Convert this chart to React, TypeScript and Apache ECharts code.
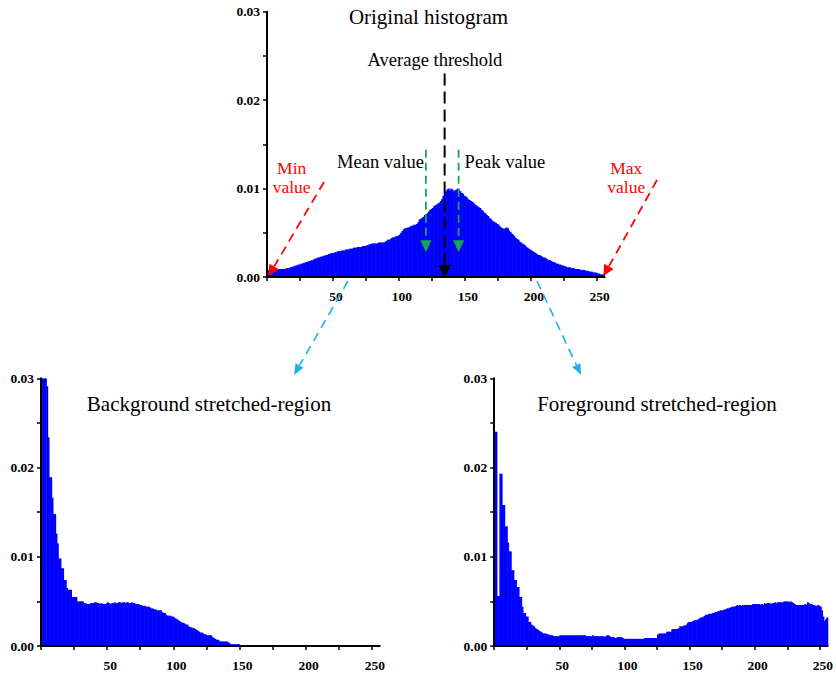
import React, { useEffect, useRef } from "react";
import * as echarts from "echarts";

// Histogram values in units of 1e-4 (i.e. 100 = 0.01), one value per grey level (bin 0, 1, 2 ...)
const UNIT = 0.0001;

const originalHist = [
  8, 8, 8, 8, 8, 8, 8, 8, 9, 9, 9, 9, 9, 9, 10, 10,
  10, 11, 11, 12, 12, 13, 13, 14, 14, 15, 15, 16, 16, 17, 17, 18,
  18, 19, 19, 20, 21, 21, 22, 22, 23, 23, 24, 24, 25, 25, 26, 26,
  27, 27, 27, 28, 28, 29, 29, 29, 30, 30, 30, 31, 31, 31, 32, 32,
  32, 33, 33, 33, 34, 34, 34, 34, 35, 35, 35, 36, 36, 37, 37, 38,
  38, 38, 38, 38, 39, 39, 39, 39, 39, 40, 41, 42, 42, 43, 44, 45,
  45, 46, 46, 47, 48, 50, 52, 54, 55, 55, 56, 56, 57, 58, 58, 59,
  59, 60, 62, 65, 66, 67, 68, 70, 71, 72, 74, 76, 77, 78, 80, 81,
  82, 83, 84, 86, 88, 92, 95, 97, 99, 100, 98, 100, 99, 97, 98, 99,
  100, 99, 97, 95, 94, 92, 91, 90, 88, 87, 86, 85, 84, 82, 81, 80,
  79, 78, 76, 75, 73, 72, 70, 69, 67, 66, 64, 63, 62, 61, 60, 59,
  57, 56, 55, 54, 55, 56, 55, 53, 51, 49, 48, 46, 44, 43, 42, 40,
  39, 38, 37, 36, 34, 33, 32, 31, 30, 29, 28, 27, 26, 25, 25, 24,
  23, 22, 22, 21, 20, 19, 19, 18, 17, 17, 16, 15, 15, 14, 14, 13,
  13, 12, 12, 11, 11, 11, 10, 10, 10, 9, 9, 9, 9, 8, 8, 8,
  8, 7, 7, 7, 6, 6, 6, 5, 5, 5, 4, 4, 3, 3, 3, 3,
];

const backgroundHist = [
  300, 300, 300, 300, 291, 234, 189, 189, 166, 148, 148, 126, 115, 98, 98, 87,
  87, 74, 74, 65, 63, 63, 63, 55, 55, 55, 55, 50, 50, 50, 50, 50,
  48, 48, 47, 47, 47, 48, 48, 48, 49, 49, 48, 48, 47, 48, 47, 47,
  47, 48, 49, 48, 47, 48, 48, 49, 48, 48, 49, 49, 48, 49, 49, 48,
  49, 49, 48, 48, 49, 48, 48, 47, 47, 47, 46, 46, 45, 45, 45, 44,
  44, 44, 43, 42, 42, 41, 41, 40, 40, 40, 40, 38, 37, 37, 35, 34,
  34, 34, 33, 33, 32, 31, 30, 29, 28, 27, 26, 26, 25, 24, 24, 22,
  21, 21, 20, 20, 19, 18, 17, 16, 15, 15, 14, 13, 13, 12, 12, 12,
  12, 10, 9, 8, 7, 7, 6, 5, 5, 5, 5, 5, 5, 4, 3, 2,
  2, 2, 2, 2, 2, 2, 1,
];

const foregroundHist = [
  240, 240, 56, 56, 193, 193, 158, 158, 134, 134, 116, 106, 106, 85, 85, 74,
  74, 66, 66, 55, 55, 44, 37, 37, 33, 33, 27, 27, 24, 23, 22, 20,
  19, 18, 17, 16, 15, 14, 14, 14, 13, 13, 12, 12, 12, 11, 11, 11,
  11, 11, 12, 12, 12, 12, 12, 12, 12, 12, 12, 12, 12, 12, 12, 12,
  12, 12, 12, 12, 12, 12, 11, 11, 11, 11, 11, 12, 11, 11, 11, 11,
  11, 11, 11, 11, 10, 11, 12, 12, 11, 10, 10, 10, 9, 9, 10, 10,
  10, 10, 9, 8, 8, 8, 8, 8, 8, 8, 8, 8, 8, 8, 8, 8,
  8, 8, 8, 9, 9, 9, 9, 9, 9, 9, 9, 9, 9, 13, 14, 14,
  14, 14, 14, 14, 16, 16, 16, 16, 19, 19, 19, 19, 19, 20, 22, 22,
  22, 23, 23, 24, 26, 27, 27, 27, 28, 29, 29, 29, 30, 31, 32, 32,
  33, 34, 35, 35, 36, 36, 36, 37, 37, 38, 38, 39, 39, 40, 40, 40,
  41, 41, 42, 42, 43, 43, 44, 44, 44, 45, 46, 45, 46, 45, 46, 46,
  46, 46, 46, 46, 46, 46, 47, 47, 47, 47, 47, 47, 46, 47, 46, 48,
  47, 48, 48, 48, 47, 48, 48, 49, 48, 49, 49, 49, 49, 49, 50, 50,
  50, 50, 49, 50, 49, 48, 47, 46, 46, 46, 46, 46, 46, 46, 47, 46,
  49, 48, 47, 47, 46, 46, 45, 45, 46, 45, 44, 40, 33, 28, 30, 32,
];

const xTickValues = [0, 25, 50, 75, 100, 125, 150, 175, 200, 225, 250];
const xLabelValues = [50, 100, 150, 200, 250];
const yTickValues = [0, 0.005, 0.01, 0.015, 0.02, 0.025, 0.03];
const yLabelValues = [0, 0.01, 0.02, 0.03];
const X_MAX = 256;
const Y_MAX = 0.03;

// annotation positions in data coordinates of the top histogram
const meanLevel = 120.5;
const peakLevel = 145.3;
const averageThreshold = 134.7;

const FONT = "'Liberation Serif', 'Times New Roman', serif";
const BLUE = "#0000ff";

function makeAxes(gridIndex: number) {
  const labelStyle = {
    color: "#000",
    fontFamily: FONT,
    fontWeight: "bold",
    fontSize: 13.5,
  };
  const xAxis = {
    type: "value",
    gridIndex,
    min: 0,
    max: X_MAX,
    z: 10,
    axisLine: { show: true, onZero: false, lineStyle: { color: "#000", width: 2 } },
    axisTick: { show: true, length: 4, customValues: xTickValues, lineStyle: { color: "#000", width: 1.5 } },
    axisLabel: {
      ...labelStyle,
      customValues: xLabelValues,
      margin: 12,
      padding: [0, 0, 0, 6],
    },
    splitLine: { show: false },
  };
  const yAxis = {
    type: "value",
    gridIndex,
    min: 0,
    max: Y_MAX,
    z: 10,
    axisLine: { show: true, onZero: false, lineStyle: { color: "#000", width: 2 } },
    axisTick: { show: true, length: 4, customValues: yTickValues, lineStyle: { color: "#000", width: 1.5 } },
    axisLabel: {
      ...labelStyle,
      customValues: yLabelValues,
      margin: 7,
      formatter: (v: number) => v.toFixed(2),
    },
    splitLine: { show: false },
  };
  return { xAxis, yAxis };
}

function histSeries(values: number[], index: number) {
  return {
    type: "custom",
    xAxisIndex: index,
    yAxisIndex: index,
    clip: true,
    z: 2,
    data: values.map((v, i) => [i, v * UNIT]),
    renderItem: (params: any, api: any) => {
      const x = api.value(0);
      const v = api.value(1);
      const p0 = api.coord([x, 0]);
      const p1 = api.coord([x + 1, v]);
      return {
        type: "rect",
        shape: { x: p0[0], y: p1[1], width: p1[0] - p0[0] + 0.6, height: p0[1] - p1[1] },
        style: { fill: BLUE },
      };
    },
  };
}

function arrow(
  x1: number, y1: number, x2: number, y2: number,
  color: string, width: number, dash: number[], headL: number, headW: number
) {
  const dx = x2 - x1;
  const dy = y2 - y1;
  const len = Math.hypot(dx, dy);
  const ux = dx / len;
  const uy = dy / len;
  const bx = x2 - ux * headL;
  const by = y2 - uy * headL;
  return [
    {
      type: "line",
      z: 100,
      shape: { x1, y1, x2: bx, y2: by },
      style: { stroke: color, lineWidth: width, lineDash: dash },
      silent: true,
    },
    {
      type: "polygon",
      z: 100,
      shape: {
        points: [
          [x2, y2],
          [bx - (uy * headW) / 2, by + (ux * headW) / 2],
          [bx + (uy * headW) / 2, by - (ux * headW) / 2],
        ],
      },
      style: { fill: color },
      silent: true,
    },
  ];
}

function label(text: string, x: number, y: number, size: number, color = "#000", align = "center") {
  return {
    type: "text",
    z: 100,
    silent: true,
    style: {
      text,
      x,
      y,
      fill: color,
      fontFamily: FONT,
      fontSize: size,
      lineHeight: 19,
      align,
      verticalAlign: "middle",
    },
  };
}

export default function App() {
  const ref = useRef<HTMLDivElement>(null);
  useEffect(() => {
    if (!ref.current) return;
    const chart = echarts.init(ref.current, null, { renderer: "svg" });
    const a0 = makeAxes(0);
    const a1 = makeAxes(1);
    const a2 = makeAxes(2);
    chart.setOption({
      animation: false,
      backgroundColor: "#fff",
      grid: [
        { left: 267, top: 11.7, width: 337.6, height: 265.3 },
        { left: 41, top: 378.3, width: 338.7, height: 267.7 },
        { left: 494.2, top: 378.3, width: 339.2, height: 267.7 },
      ],
      xAxis: [a0.xAxis, a1.xAxis, a2.xAxis],
      yAxis: [a0.yAxis, a1.yAxis, a2.yAxis],
      series: [histSeries(originalHist, 0), histSeries(backgroundHist, 1), histSeries(foregroundHist, 2)],
    });

    const px = (x: number, y: number) => chart.convertToPixel({ gridIndex: 0 }, [x, y]) as number[];
    const meanTop = px(meanLevel, 0.0144);
    const meanTip = px(meanLevel, 0.0028);
    const peakTop = px(peakLevel, 0.0144);
    const peakTip = px(peakLevel, 0.0028);
    const avgTop = px(averageThreshold, 0.023);
    const avgTip = px(averageThreshold, 0);

    const GREEN = "#1aa650";
    const RED = "#ff0000";
    const CYAN = "#1eb2ea";

    chart.setOption({
      graphic: [
        label("Original histogram", 428.5, 17, 21),
        label("Average threshold", 435, 59.5, 18.5),
        label("Mean value", meanTop[0] - 2, 161.7, 18.5, "#000", "right"),
        label("Peak value", peakTop[0] + 6, 161.7, 18.5, "#000", "left"),
        label("Min\nvalue", 291.7, 177.5, 17.5, RED),
        label("Max\nvalue", 626.3, 177.5, 17.5, RED),
        label("Background stretched-region", 209, 403.5, 21),
        label("Foreground stretched-region", 657, 403.5, 21),
        ...arrow(meanTop[0], meanTop[1], meanTip[0], meanTip[1], GREEN, 1.8, [8, 5], 12, 11),
        ...arrow(peakTop[0], peakTop[1], peakTip[0], peakTip[1], GREEN, 1.8, [8, 5], 12, 11),
        ...arrow(avgTop[0], avgTop[1], avgTip[0], avgTip[1], "#000", 2, [12, 6], 12, 13),
        ...arrow(324, 182, 268.5, 276, RED, 1.8, [9, 6], 11, 11),
        ...arrow(657, 180, 603.5, 276, RED, 1.8, [9, 6], 11, 11),
        ...arrow(348, 281, 294, 375, CYAN, 1.6, [9, 6], 11, 9),
        ...arrow(537, 281, 581, 375, CYAN, 1.6, [9, 6], 11, 9),
      ],
    });
    return () => chart.dispose();
  }, []);
  return (
    <div
      ref={ref}
      style={{ position: "absolute", left: 0, top: 0, width: 836, height: 675 }}
    />
  );
}
